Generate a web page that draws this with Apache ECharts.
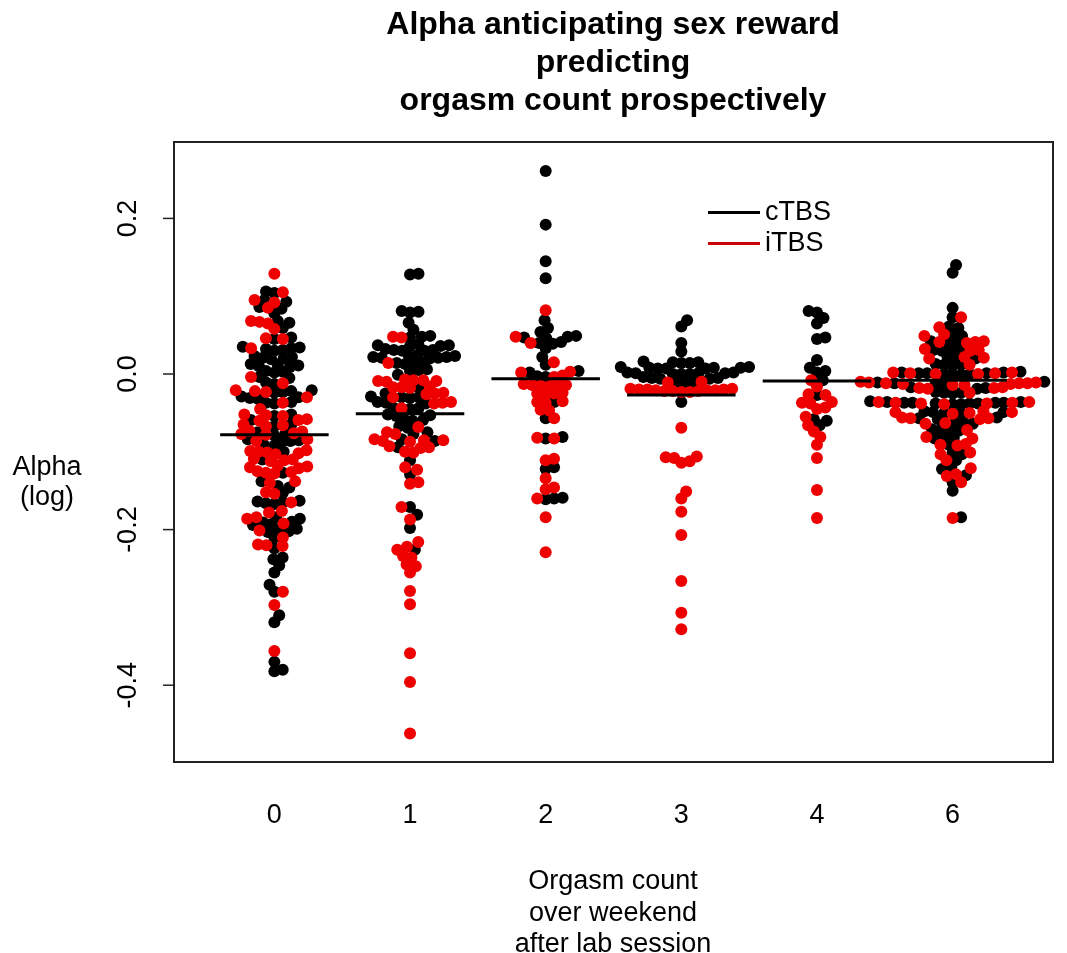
<!DOCTYPE html>
<html><head><meta charset="utf-8">
<script src="https://cdn.jsdelivr.net/npm/echarts@6/dist/echarts.min.js"></script>
<style>html,body{margin:0;padding:0;background:#fff}#c{width:1067px;height:953px}</style>
</head><body><div id="c"></div>
<script>
// ---------- data ----------
const xLabels = ['0', '1', '2', '3', '4', '6'];
const yTicks = [-0.4, -0.2, 0.0, 0.2];
const seriesNames = ['cTBS', 'iTBS'];

const g0_cTBS = [0.106,0.104,0.095,0.093,0.086,0.084,0.078,0.068,0.066,0.059,0.047,0.045,0.035,0.034,0.033,0.032,0.031,0.030,0.023,0.022,0.021,0.020,0.019,0.013,0.012,0.011,0.010,0.009,0.004,0.003,0.002,-0.004,-0.005,-0.011,-0.013,-0.021,-0.022,-0.023,-0.024,-0.029,-0.030,-0.031,-0.032,-0.036,-0.037,-0.038,-0.052,-0.054,-0.059,-0.065,-0.067,-0.075,-0.077,-0.079,-0.084,-0.085,-0.086,-0.087,-0.091,-0.092,-0.100,-0.110,-0.127,-0.138,-0.144,-0.146,-0.153,-0.163,-0.164,-0.165,-0.166,-0.167,-0.184,-0.186,-0.190,-0.191,-0.193,-0.194,-0.199,-0.200,-0.202,-0.203,-0.210,-0.224,-0.236,-0.238,-0.246,-0.255,-0.271,-0.280,-0.310,-0.319,-0.370,-0.380,-0.382];
const g0_iTBS = [0.129,0.105,0.095,0.092,0.085,0.068,0.067,0.065,0.058,0.046,0.045,0.033,-0.004,-0.012,-0.021,-0.022,-0.023,-0.030,-0.037,-0.045,-0.052,-0.053,-0.054,-0.058,-0.059,-0.060,-0.065,-0.066,-0.067,-0.073,-0.074,-0.076,-0.077,-0.078,-0.084,-0.086,-0.098,-0.099,-0.100,-0.101,-0.102,-0.103,-0.109,-0.110,-0.111,-0.112,-0.118,-0.119,-0.120,-0.121,-0.125,-0.126,-0.127,-0.128,-0.138,-0.140,-0.152,-0.154,-0.165,-0.176,-0.178,-0.184,-0.186,-0.192,-0.201,-0.210,-0.219,-0.220,-0.221,-0.280,-0.297,-0.356];

const g1_cTBS = [0.129,0.128,0.081,0.080,0.079,0.066,0.057,0.049,0.048,0.047,0.038,0.037,0.037,0.036,0.036,0.032,0.031,0.031,0.030,0.030,0.024,0.023,0.023,0.022,0.022,0.021,0.021,0.020,0.015,0.014,0.014,0.013,0.006,0.005,0.004,-0.001,-0.017,-0.025,-0.029,-0.030,-0.030,-0.031,-0.036,-0.037,-0.038,-0.043,-0.044,-0.045,-0.052,-0.053,-0.054,-0.058,-0.059,-0.060,-0.067,-0.069,-0.075,-0.077,-0.084,-0.086,-0.094,-0.111,-0.129,-0.171,-0.181,-0.198,-0.226];
const g1_iTBS = [0.048,0.047,0.014,-0.007,-0.008,-0.008,-0.009,-0.009,-0.010,-0.016,-0.017,-0.017,-0.018,-0.024,-0.025,-0.026,-0.030,-0.036,-0.037,-0.038,-0.044,-0.068,-0.075,-0.077,-0.084,-0.085,-0.085,-0.086,-0.087,-0.093,-0.094,-0.095,-0.100,-0.101,-0.120,-0.123,-0.139,-0.141,-0.171,-0.187,-0.216,-0.222,-0.226,-0.234,-0.236,-0.245,-0.247,-0.255,-0.279,-0.296,-0.359,-0.396,-0.462];

const g2_cTBS = [0.261,0.192,0.145,0.123,0.069,0.059,0.054,0.049,0.048,0.047,0.046,0.041,0.040,0.039,0.033,0.022,0.012,0.004,0.002,-0.003,-0.004,-0.036,-0.057,-0.081,-0.083,-0.120,-0.122,-0.159,-0.160,-0.161];
const g2_iTBS = [0.082,0.048,0.040,0.015,0.003,0.002,-0.002,-0.004,-0.013,-0.014,-0.014,-0.015,-0.015,-0.016,-0.024,-0.025,-0.025,-0.026,-0.035,-0.036,-0.037,-0.046,-0.047,-0.057,-0.082,-0.083,-0.109,-0.111,-0.134,-0.146,-0.148,-0.160,-0.184,-0.229];

const g3_cTBS = [0.069,0.061,0.040,0.029,0.016,0.015,0.015,0.014,0.014,0.009,0.009,0.008,0.008,0.008,0.007,0.007,0.007,0.002,0.002,0.001,0.001,0.001,0.000,0.000,0.000,-0.004,-0.005,-0.005,-0.006,-0.006,-0.011,-0.012,-0.013,-0.036];
const g3_iTBS = [-0.010,-0.011,-0.019,-0.019,-0.020,-0.020,-0.020,-0.021,-0.021,-0.021,-0.022,-0.022,-0.022,-0.023,-0.023,-0.069,-0.106,-0.107,-0.108,-0.112,-0.114,-0.151,-0.160,-0.177,-0.207,-0.266,-0.307,-0.328];

const g4_cTBS = [0.081,0.079,0.072,0.065,0.047,0.045,0.018,0.008,0.004,0.002,-0.008,-0.027,-0.058,-0.060,-0.066];
const g4_iTBS = [-0.008,-0.016,-0.026,-0.027,-0.036,-0.037,-0.038,-0.043,-0.045,-0.055,-0.066,-0.074,-0.081,-0.091,-0.108,-0.149,-0.185];

const g6_cTBS = [0.140,0.130,0.085,0.073,0.061,0.059,0.051,0.049,0.042,0.041,0.040,0.032,0.031,0.031,0.030,0.022,0.021,0.020,0.013,0.012,0.012,0.011,0.003,0.002,0.002,0.001,0.001,0.001,0.000,0.000,-0.001,-0.001,-0.010,-0.011,-0.012,-0.012,-0.013,-0.017,-0.018,-0.019,-0.023,-0.024,-0.024,-0.025,-0.035,-0.036,-0.036,-0.037,-0.037,-0.037,-0.037,-0.038,-0.038,-0.038,-0.039,-0.039,-0.048,-0.049,-0.049,-0.050,-0.050,-0.056,-0.057,-0.058,-0.062,-0.063,-0.064,-0.071,-0.072,-0.072,-0.073,-0.081,-0.082,-0.083,-0.091,-0.101,-0.103,-0.111,-0.120,-0.122,-0.130,-0.139,-0.150,-0.184];
const g6_iTBS = [0.073,0.060,0.051,0.049,0.042,0.041,0.041,0.040,0.032,0.031,0.030,0.022,0.021,0.020,0.012,0.002,0.002,0.001,0.001,0.000,0.000,-0.010,-0.011,-0.011,-0.012,-0.012,-0.012,-0.013,-0.013,-0.014,-0.014,-0.017,-0.018,-0.018,-0.019,-0.024,-0.036,-0.036,-0.037,-0.037,-0.038,-0.038,-0.039,-0.048,-0.049,-0.049,-0.050,-0.051,-0.056,-0.057,-0.057,-0.058,-0.063,-0.064,-0.072,-0.081,-0.083,-0.090,-0.091,-0.092,-0.101,-0.103,-0.111,-0.121,-0.129,-0.131,-0.139,-0.185];

const medians = [-0.078, -0.051, -0.006, -0.027, -0.009, -0.008];

const groupsC = [g0_cTBS, g1_cTBS, g2_cTBS, g3_cTBS, g4_cTBS, g6_cTBS];
const groupsI = [g0_iTBS, g1_iTBS, g2_iTBS, g3_iTBS, g4_iTBS, g6_iTBS];

// ---------- chart ----------
const FONT = '"Liberation Sans", Arial, Helvetica, sans-serif';
const RED = '#ee0000';
const X_MIN = -0.74, X_MAX = 5.74;
const chart = echarts.init(document.getElementById('c'), null, {renderer: 'canvas'});

chart.setOption({
  animation: false,
  backgroundColor: '#ffffff',
  textStyle: {fontFamily: FONT},
  title: [
    {text: 'Alpha anticipating sex reward\npredicting\norgasm count prospectively',
     left: 613, top: 6, textAlign: 'center', padding: 0,
     textStyle: {fontFamily: FONT, fontSize: 32, fontWeight: 'bold', lineHeight: 38, color: '#000'}},
    {text: 'Orgasm count\nover weekend\nafter lab session',
     left: 613, top: 866, textAlign: 'center', padding: 0,
     textStyle: {fontFamily: FONT, fontSize: 27, fontWeight: 'normal', lineHeight: 31.5, color: '#000'}},
    {text: 'Alpha\n(log)',
     left: 47, top: 453, textAlign: 'center', padding: 0,
     textStyle: {fontFamily: FONT, fontSize: 27, fontWeight: 'normal', lineHeight: 30, color: '#000'}}
  ],
  legend: {
    left: 708, top: 197, orient: 'vertical', itemGap: 0, padding: 0,
    icon: 'rect', itemWidth: 52, itemHeight: 3,
    textStyle: {fontFamily: FONT, fontSize: 27, lineHeight: 31, color: '#000'},
    data: [{name: seriesNames[0], itemStyle: {color: '#000'}},
           {name: seriesNames[1], itemStyle: {color: '#cc0000'}}]
  },
  grid: {left: 174, right: 14, top: 142, bottom: 191, show: true,
         borderColor: '#222', borderWidth: 2, backgroundColor: 'transparent', containLabel: false},
  xAxis: {
    type: 'value', min: X_MIN, max: X_MAX,
    axisLine: {show: false}, axisTick: {show: false}, splitLine: {show: false},
    axisLabel: {customValues: [0, 1, 2, 3, 4, 5], formatter: v => xLabels[Math.round(v)],
                margin: 40, fontFamily: FONT, fontSize: 27, color: '#000'}
  },
  yAxis: {
    type: 'value', min: -0.4987, max: 0.2982,
    axisLine: {show: false}, splitLine: {show: false}, axisTick: {show: false},
    axisLabel: {customValues: yTicks, formatter: v => v.toFixed(1), rotate: 90,
                margin: 32, fontFamily: FONT, fontSize: 27, color: '#000'}
  },
  series: []
});

// ---------- beeswarm layout (ascending priority, both sides) in pixel space ----------
const D = 8.5; // point spacing in px
function swarm(ysPx) {
  const n = ysPx.length;
  const order = ysPx.map((y, i) => i).sort((a, b) => ysPx[b] - ysPx[a]);
  const placed = [];
  const xs = new Array(n);
  for (const i of order) {
    const y = ysPx[i];
    const near = placed.filter(p => Math.abs(p.y - y) < D);
    const cands = [0];
    for (const p of near) {
      const off = Math.sqrt(D * D - (p.y - y) * (p.y - y));
      cands.push(p.x + off, p.x - off);
    }
    cands.sort((a, b) => (Math.abs(a) - Math.abs(b)) || (b - a));
    let best = 0;
    for (const c of cands) {
      if (near.every(p => (p.x - c) * (p.x - c) + (p.y - y) * (p.y - y) >= D * D - 1e-6)) { best = c; break; }
    }
    xs[i] = best;
    placed.push({x: best, y: y});
  }
  return xs;
}

const pxPerX = chart.convertToPixel({xAxisIndex: 0}, 1) - chart.convertToPixel({xAxisIndex: 0}, 0);
const dataC = [], dataI = [];
for (let g = 0; g < groupsC.length; g++) {
  const vals = groupsC[g].concat(groupsI[g]);
  const ysPx = vals.map(v => chart.convertToPixel({yAxisIndex: 0}, v));
  const offs = swarm(ysPx);
  vals.forEach((v, k) => {
    const pt = [g + offs[k] / pxPerX, v];
    if (k < groupsC[g].length) dataC.push(pt); else dataI.push(pt);
  });
}

chart.setOption({
  series: [
    {name: seriesNames[0], type: 'scatter', data: dataC, symbol: 'circle', symbolSize: 12,
     itemStyle: {color: '#000', opacity: 1}, z: 2, silent: true},
    {name: seriesNames[1], type: 'scatter', data: dataI, symbol: 'circle', symbolSize: 12,
     itemStyle: {color: RED, opacity: 1}, z: 3, silent: true},
    {name: 'median', type: 'custom', data: medians.map((m, i) => [i, m]), z: 10, silent: true,
     renderItem: (params, api) => {
       const i = api.value(0), m = api.value(1);
       const p1 = api.coord([i - 0.4, m]), p2 = api.coord([i + 0.4, m]);
       return {type: 'line', shape: {x1: p1[0], y1: p1[1], x2: p2[0], y2: p2[1]},
               style: {stroke: '#000', lineWidth: 3}};
     }},
    {name: 'yticks', type: 'custom', data: yTicks.map(v => [X_MIN, v]), z: 10, silent: true, clip: false,
     renderItem: (params, api) => {
       const p = api.coord([api.value(0), api.value(1)]);
       return {type: 'line', shape: {x1: p[0] - 11, y1: p[1], x2: p[0], y2: p[1]},
               style: {stroke: '#222', lineWidth: 1.5}};
     }}
  ]
});
</script>
</body></html>
